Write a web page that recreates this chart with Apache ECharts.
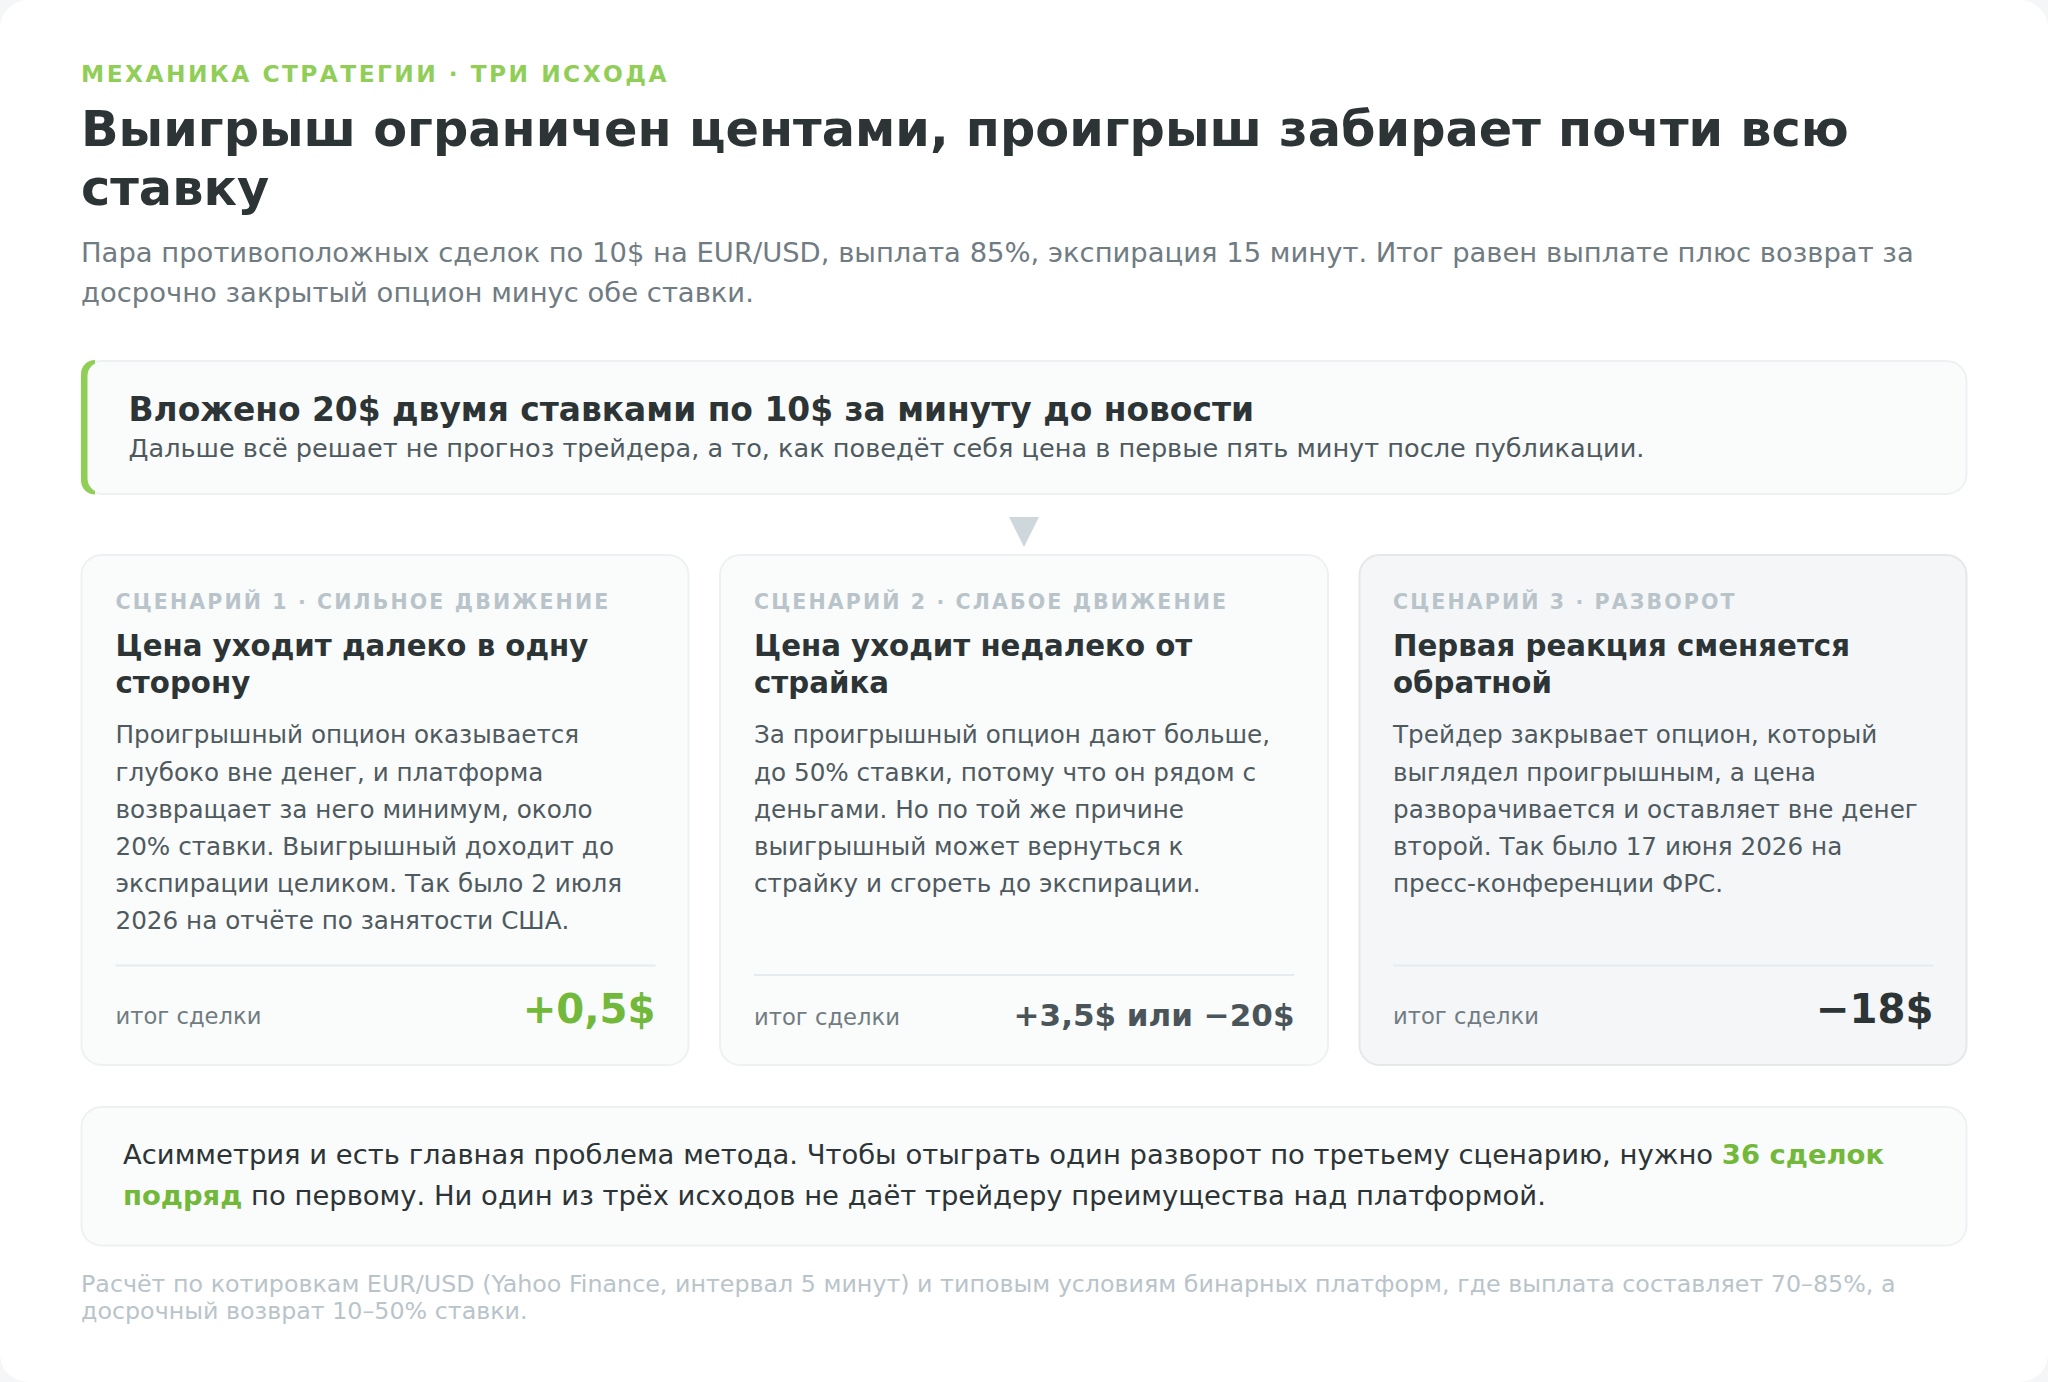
<!DOCTYPE html>
<html lang="ru"><head><meta charset="utf-8">
<style>
html,body{margin:0;padding:0;background:#f5f6f8}
#chart{width:2048px;height:1382px}
svg text[style*="23.3px"]{letter-spacing:2.46px}
svg text[style*="20.55px"]{letter-spacing:2.1px}
</style>
<script src="https://cdn.jsdelivr.net/npm/echarts@6/dist/echarts.min.js"></script>
</head><body><div id="chart"></div>
<script>
const eyebrow = "МЕХАНИКА СТРАТЕГИИ · ТРИ ИСХОДА";
const titleLines = ["Выигрыш ограничен центами, проигрыш забирает почти всю", "ставку"];
const subLines = ["Пара противоположных сделок по 10$ на EUR/USD, выплата 85%, экспирация 15 минут. Итог равен выплате плюс возврат за", "досрочно закрытый опцион минус обе ставки."];
const leadHead = "Вложено 20$ двумя ставками по 10$ за минуту до новости";
const leadText = "Дальше всё решает не прогноз трейдера, а то, как поведёт себя цена в первые пять минут после публикации.";
const scenarioLabels = ["СЦЕНАРИЙ 1 · СИЛЬНОЕ ДВИЖЕНИЕ", "СЦЕНАРИЙ 2 · СЛАБОЕ ДВИЖЕНИЕ", "СЦЕНАРИЙ 3 · РАЗВОРОТ"];
const scenarioTitles = [["Цена уходит далеко в одну", "сторону"], ["Цена уходит недалеко от", "страйка"], ["Первая реакция сменяется", "обратной"]];
const scenarioBodies = [
  ["Проигрышный опцион оказывается", "глубоко вне денег, и платформа", "возвращает за него минимум, около", "20% ставки. Выигрышный доходит до", "экспирации целиком. Так было 2 июля", "2026 на отчёте по занятости США."],
  ["За проигрышный опцион дают больше,", "до 50% ставки, потому что он рядом с", "деньгами. Но по той же причине", "выигрышный может вернуться к", "страйку и сгореть до экспирации."],
  ["Трейдер закрывает опцион, который", "выглядел проигрышным, а цена", "разворачивается и оставляет вне денег", "второй. Так было 17 июня 2026 на", "пресс-конференции ФРС."]
];
const outcomeLabel = "итог сделки";
const outcomes = ["+0,5$", "+3,5$ или −20$", "−18$"];
const noteLine1 = ["Асимметрия и есть главная проблема метода. Чтобы отыграть один разворот по третьему сценарию, нужно ", "36 сделок"];
const noteLine2 = ["подряд", " по первому. Ни один из трёх исходов не даёт трейдеру преимущества над платформой."];
const footLines = ["Расчёт по котировкам EUR/USD (Yahoo Finance, интервал 5 минут) и типовым условиям бинарных платформ, где выплата составляет 70–85%, а", "досрочный возврат 10–50% ставки."];

const FF = '"DejaVu Sans"';
const INK = '#2d3436', GREY = '#707c82', BODY = '#4f5a5f', MUTE = '#b9c4ca', GREEN = '#72b83a', LIME = '#90ce58';
const els = [];
function box(x, y, w, h, r, fill, stroke, lw) {
  els.push({type:'rect', silent:true, shape:{x, y, width:w, height:h, r},
    style:{fill, stroke: stroke || 'none', lineWidth: lw || 0}});
}
function txt(x, base, s, fs, weight, color, align) {
  els.push({type:'text', silent:true, x, y: base - 0.346*fs,
    style:{text:s, fontFamily:FF, fontSize:fs, fontWeight:weight, fill:color, align:align||'left', verticalAlign:'middle'}});
}
function rich(x, base, s, fs, color, boldColor) {
  els.push({type:'text', silent:true, x, y: base - 0.346*fs,
    style:{text:s, fontFamily:FF, fontSize:fs, fill:color, align:'left', verticalAlign:'middle',
      rich:{b:{fontFamily:FF, fontSize:fs, fontWeight:'bold', fill:boldColor},
            n:{fontFamily:FF, fontSize:fs, fill:color}}}});
}
// page
box(0, 0, 2048, 1382, 28, '#ffffff');
// header
txt(81, 82, eyebrow, 23.3, 'bold', LIME);
titleLines.forEach((s,i)=>txt(81, 146 + i*58.7, s, 49.37, 'bold', INK));
subLines.forEach((s,i)=>txt(81, 261.5 + i*40, s, 27.42, 'normal', GREY));
// lead box
box(81.5, 361, 1885, 133, 20, '#fafbfb', '#eef1f3', 2);
box(81, 360, 14, 134.5, [20,0,0,20], LIME);
box(87.5, 362, 30, 130.5, [14,0,0,14], '#fafbfb');
txt(128.5, 421, leadHead, 32.89, 'bold', INK);
txt(128.5, 457, leadText, 25.58, 'normal', BODY);
// arrow
els.push({type:'polygon', silent:true, shape:{points:[[1009,517],[1039,517],[1024,547]]}, style:{fill:'#ced7db'}});
// cards
const cardX = [81.5, 720, 1359.5], cardW = [607, 608, 607], textX = [115.5, 754, 1393], ruleEnd = [655.5, 1294.5, 1933.5],
      ruleY = [965.5, 975, 965.5], valSize = [40.2, 31, 40.2], valBase = [1022.5, 1025.5, 1022.5], labBase = [1024, 1025, 1024],
      valColor = [GREEN, '#4a555a', INK], cardFill = ['#fafbfb','#fafbfb','#f4f6f8'], cardLine = ['#eef1f3','#eef1f3','#e4e8eb'];
scenarioLabels.forEach((lab,i)=>{
  const tx = textX[i], rx = ruleEnd[i];
  box(cardX[i], 555, cardW[i], 510, 20, cardFill[i], cardLine[i], 2);
  txt(tx, 609, lab, 20.55, 'bold', MUTE);
  scenarioTitles[i].forEach((s,j)=>txt(tx, 656 + j*37, s, 29.25, 'bold', INK));
  scenarioBodies[i].forEach((s,j)=>txt(tx, 743.5 + j*37.1, s, 24.67, 'normal', BODY));
  els.push({type:'line', silent:true, shape:{x1:tx, y1:ruleY[i], x2:rx, y2:ruleY[i]}, style:{stroke:'#e6ebee', lineWidth:2}});
  txt(tx, labBase[i], outcomeLabel, 22.68, 'normal', GREY);
  txt(rx, valBase[i], outcomes[i], valSize[i], 'bold', valColor[i], 'right');
});
// note
box(81.5, 1107, 1885, 138.5, 20, '#fafbfb', '#eef1f3', 2);
rich(123, 1164, noteLine1[0] + '{b|' + noteLine1[1] + '}', 27.43, INK, GREEN);
rich(123, 1205, '{b|' + noteLine2[0] + '}' + noteLine2[1], 27.43, INK, GREEN);
// footnote
footLines.forEach((s,i)=>txt(81, 1292 + i*27.5, s, 23.77, 'normal', MUTE));

const chart = echarts.init(document.getElementById('chart'), null, {renderer:'svg', width:2048, height:1382});
chart.setOption({animation:false, backgroundColor:'transparent', graphic:{elements:els}});
</script></body></html>
